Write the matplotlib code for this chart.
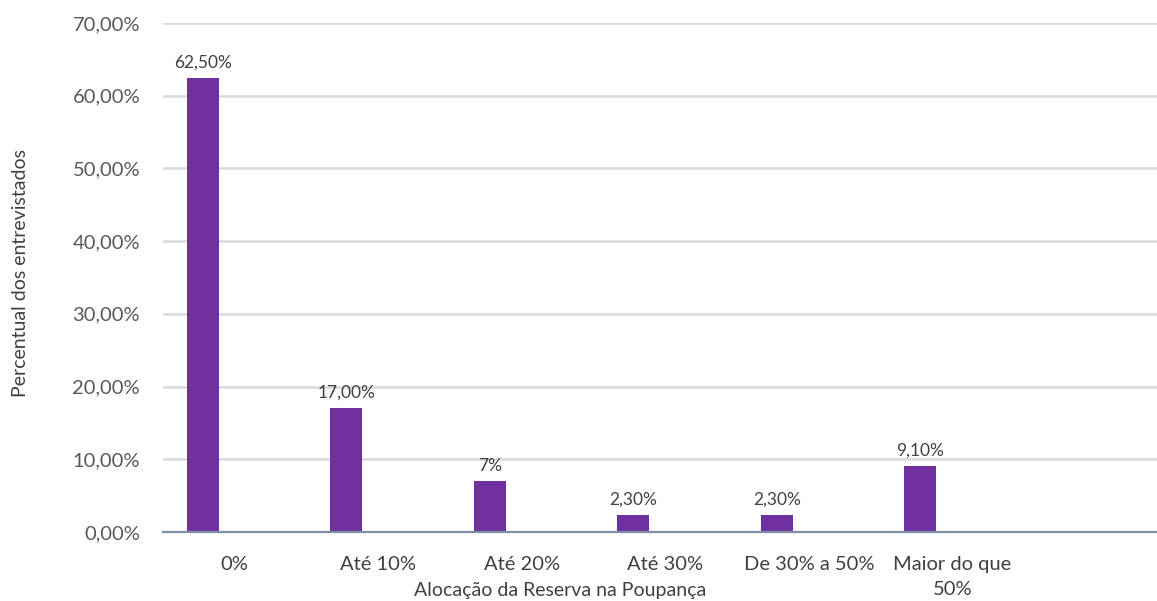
import matplotlib.pyplot as plt
import numpy as np
from matplotlib.ticker import FuncFormatter

plt.rcParams['font.family'] = ['Lato', 'DejaVu Sans']

categorias = ['0%', 'Até 10%', 'Até 20%', 'Até 30%', 'De 30% a 50%', 'Maior do que\n50%', '']
percentuais = [62.5, 17.0, 7.0, 2.3, 2.3, 9.1]
rotulos = ['62,50%', '17,00%', '7%', '2,30%', '2,30%', '9,10%']
ticks_y = [0, 10, 20, 30, 40, 50, 60, 70]

ROXO = '#7030A0'
CINZA_TEXTO = '#595959'


def fmt_pct(v, pos):
    return f'{v:.2f}%'.replace('.', ',')


fig = plt.figure(figsize=(11.57, 6.01), dpi=100)
ax = fig.add_axes([0.1409, 0.1148, 0.8591, 0.8469])

largura = 0.223
x = np.arange(len(percentuais))
barras = ax.bar(x - largura, percentuais, width=largura, color=ROXO, zorder=3)

for b, txt in zip(barras, rotulos):
    ax.text(b.get_x() + b.get_width() / 2, b.get_height() + 1.0, txt,
            ha='center', va='bottom', fontsize=12.5, color='#404040')

ax.set_xlim(-0.5, 6.425)
ax.set_ylim(0, 70)
ax.set_yticks(ticks_y)
ax.yaxis.set_major_formatter(FuncFormatter(fmt_pct))
ax.set_xticks(np.arange(len(categorias)))
ax.set_xticklabels(categorias)

ax.grid(axis='y', color='#D9D9D9', linewidth=1.8, zorder=0)
for s in ['top', 'right', 'left']:
    ax.spines[s].set_visible(False)
ax.spines['bottom'].set_color('#7F8FA6')
ax.spines['bottom'].set_linewidth(1.6)
ax.spines['bottom'].set_zorder(4)

ax.tick_params(axis='both', length=0)
ax.tick_params(axis='y', pad=16.5, labelsize=14.5, labelcolor=CINZA_TEXTO)
ax.tick_params(axis='x', pad=17, labelsize=14.5, labelcolor='#404040')
for lbl in ax.get_xticklabels():
    lbl.set_linespacing(1.6)

fig.text(0.484, 0.018, 'Alocação da Reserva na Poupança', ha='center', va='center',
         fontsize=14, color='#404040')
fig.text(0.0175, 0.546, 'Percentual dos entrevistados', rotation=90, ha='center', va='center',
         fontsize=14, color='#404040')

fig.savefig('out.png', dpi=100, facecolor='white')
